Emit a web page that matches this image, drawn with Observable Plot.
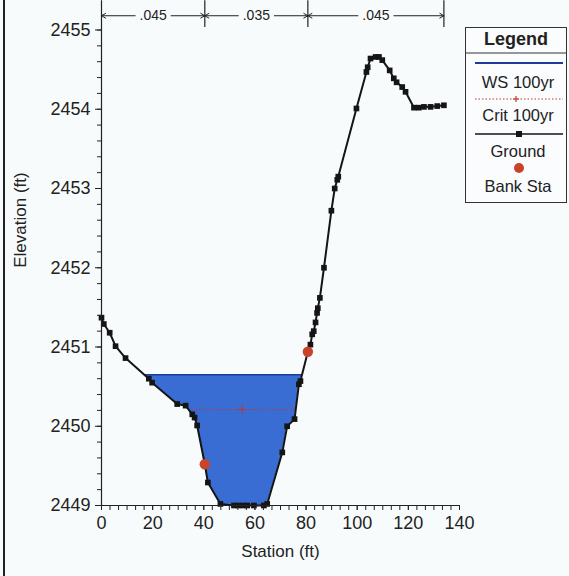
<!DOCTYPE html>
<html>
<head>
<meta charset="utf-8">
<script src="https://cdn.jsdelivr.net/npm/d3@7"></script>
<script src="https://cdn.jsdelivr.net/npm/@observablehq/plot@0.6"></script>
<style>
html, body { margin: 0; padding: 0; background: #f8fbfc; }
#wrap { position: relative; width: 569px; height: 576px; overflow: hidden; font-family: "Liberation Sans", Arial, sans-serif; color: #222; }
#edge { position: absolute; left: 3px; top: 0; width: 2px; height: 576px; background: #222; }
#legend { position: absolute; left: 465px; top: 27px; width: 100px; height: 174px; border: 1px solid #333; background: #fafcfd; }
#chart { position: absolute; left: 0; top: 0; }
</style>
</head>
<body>
<div id="wrap">
  <div id="chart"></div>
  <div id="edge"></div>
  <div id="legend"></div>
</div>
<script>
// Ground profile (station ft, elevation ft)
const station = [0, 0.9, 3.2, 5.5, 9.4, 18.5, 19.8, 29.6, 32.9, 35.5, 36.4, 37.4, 40.4, 41.6, 46.5,
  51.8, 53.5, 55.5, 57.0, 59.6, 63.5, 64.8, 70.7, 72.6, 75.5, 77.2, 77.8, 80.7, 81.7, 82.4, 83.0,
  83.7, 84.3, 84.6, 85.4, 87.0, 89.9, 91.2, 92.2, 92.6, 99.7, 103.6, 104.1, 105.2, 107.2, 108.5,
  109.8, 112.7, 114.3, 115.4, 117.6, 118.9, 122.2, 124.1, 126.1, 128.7, 131.3, 133.9];
const elevation = [2451.37, 2451.29, 2451.18, 2451.01, 2450.86, 2450.60, 2450.55, 2450.28, 2450.26,
  2450.15, 2450.11, 2450.01, 2449.52, 2449.29, 2449.02, 2449.0, 2449.0, 2449.0, 2449.0, 2449.0,
  2449.0, 2449.02, 2449.67, 2450.0, 2450.09, 2450.53, 2450.57, 2450.94, 2451.03, 2451.16, 2451.2,
  2451.31, 2451.43, 2451.49, 2451.62, 2452.0, 2452.72, 2453.0, 2453.11, 2453.15, 2454.01, 2454.47,
  2454.53, 2454.64, 2454.66, 2454.66, 2454.62, 2454.49, 2454.39, 2454.34, 2454.28, 2454.22, 2454.02,
  2454.02, 2454.03, 2454.03, 2454.04, 2454.05];
const bankStations = [40.4, 80.7];
const wsElevation = 2450.65;     // WS 100yr
const critElevation = 2450.21;   // Crit 100yr
const nValues = [".045", ".035", ".045"];
const xTicks = [0, 20, 40, 60, 80, 100, 120, 140];
const yTicks = [2449, 2450, 2451, 2452, 2453, 2454, 2455];

const ground = station.map((s, i) => ({x: s, y: elevation[i]}));
const banks = bankStations.map(s => ground.find(d => d.x === s));

function crossings(level) {
  const pts = [];
  for (let i = 0; i < ground.length - 1; i++) {
    const a = ground[i].y - level, b = ground[i + 1].y - level;
    if ((a > 0 && b <= 0) || (a <= 0 && b > 0)) {
      const t = a / (a - b);
      pts.push(ground[i].x + t * (ground[i + 1].x - ground[i].x));
    }
  }
  return [pts[0], pts[pts.length - 1]];
}
const [wsL, wsR] = crossings(wsElevation);
const [crL, crR] = crossings(critElevation);
const wet = [{x: wsL, y: wsElevation}, ...ground.filter(d => d.x > wsL && d.x < wsR), {x: wsR, y: wsElevation}];

const bounds = [station[0], bankStations[0], bankStations[1], station[station.length - 1]];
const nSegs = nValues.map((v, i) => ({label: v, a: bounds[i], b: bounds[i + 1], mid: (bounds[i] + bounds[i + 1]) / 2}));
const annY = 2455.18, barTop = 2455.37, barBot = 2455.03;

const font = '"Liberation Sans", Arial, sans-serif';
const chart = Plot.plot({
  width: 569, height: 576,
  marginLeft: 101, marginRight: 110, marginTop: 29.5, marginBottom: 71,
  x: {domain: [0, 140]},
  y: {domain: [2449, 2455]},
  style: {background: "transparent", fontFamily: font, color: "#222", overflow: "visible"},
  marks: [
    Plot.areaY(wet, {x: "x", y1: "y", y2: () => wsElevation, fill: "#3a6dd3", fillOpacity: 1}),
    Plot.ruleY([critElevation], {x1: crL, x2: crR, stroke: "#c0392b", strokeWidth: 1, strokeDasharray: "1.5,2"}),
    Plot.dot([{x: (crL + crR) / 2, y: critElevation}], {x: "x", y: "y", symbol: "plus", r: 3, stroke: "#c0392b", strokeWidth: 1}),
    Plot.ruleY([wsElevation], {x1: wsL, x2: wsR, stroke: "#1e3a9a", strokeWidth: 1.5}),
    Plot.line(ground, {x: "x", y: "y", stroke: "#151515", strokeWidth: 2}),
    Plot.dot(ground, {x: "x", y: "y", symbol: "square", r: 3.2, fill: "#151515", stroke: "none"}),
    Plot.dot(banks, {x: "x", y: "y", r: 5.2, fill: "#c9432a", stroke: "none"}),
    // axes
    Plot.axisX(d3.range(0, 140.001, 20 / 6), {tickSize: 5, tickFormat: () => "", label: null, stroke: "#222"}),
    Plot.axisX(xTicks, {tickSize: 5, tickPadding: 6, fontSize: 18, label: null, stroke: "#222", fill: "#222"}),
    Plot.axisY(d3.range(2449, 2455.001, 0.2), {tickSize: 4, tickFormat: () => "", label: null, stroke: "#222"}),
    Plot.axisY(yTicks, {tickSize: 6, tickPadding: 5, tickFormat: d3.format("d"), fontSize: 18, label: null, stroke: "#222", fill: "#222"}),
    Plot.ruleX([0], {y1: 2449, y2: barTop, stroke: "#222", strokeWidth: 1.2}),
    Plot.ruleY([2449], {x1: 0, x2: 140, stroke: "#222", strokeWidth: 1.2}),
    Plot.text(["Elevation (ft)"], {text: d => d, frameAnchor: "left", dx: -81, rotate: -90, fontSize: 17, fill: "#222"}),
    Plot.text(["Station (ft)"], {text: d => d, frameAnchor: "bottom", dy: 51, fontSize: 17, fill: "#222"}),
    // Manning's n annotation
    Plot.ruleX(bounds.slice(1), {y1: barBot, y2: barTop, stroke: "#222", strokeWidth: 1.2}),
    Plot.arrow(nSegs, {x1: "mid", x2: "a", y1: () => annY, y2: () => annY, insetStart: 18, headLength: 7, bend: 0, stroke: "#222", strokeWidth: 1}),
    Plot.arrow(nSegs, {x1: "mid", x2: "b", y1: () => annY, y2: () => annY, insetStart: 18, headLength: 7, bend: 0, stroke: "#222", strokeWidth: 1}),
    Plot.text(nSegs, {x: "mid", y: () => annY, text: "label", fontSize: 14, fill: "#222"})
  ]
});
document.getElementById("chart").appendChild(chart);

// Legend
const legendItems = ["WS 100yr", "Crit 100yr", "Ground", "Bank Sta"];
const L = d3.select("#legend").append("svg").attr("width", 100).attr("height", 174)
  .style("font-family", font).style("display", "block");
L.append("text").attr("x", 50).attr("y", 11).attr("text-anchor", "middle").attr("dominant-baseline", "central")
  .attr("font-weight", "bold").attr("font-size", 18).attr("fill", "#222").text("Legend");
L.append("line").attr("x1", 0).attr("x2", 100).attr("y1", 25).attr("y2", 25).attr("stroke", "#333").attr("stroke-width", 1);
L.append("line").attr("x1", 9).attr("x2", 97).attr("y1", 35).attr("y2", 35).attr("stroke", "#1e3a9a").attr("stroke-width", 2);
L.append("line").attr("x1", 9).attr("x2", 97).attr("y1", 71).attr("y2", 71).attr("stroke", "#c0392b").attr("stroke-width", 1).attr("stroke-dasharray", "1.5,2");
L.append("path").attr("d", "M50,68V74M47,71H53").attr("stroke", "#c0392b").attr("stroke-width", 1.2);
L.append("line").attr("x1", 9).attr("x2", 97).attr("y1", 106).attr("y2", 106).attr("stroke", "#151515").attr("stroke-width", 1.5);
L.append("rect").attr("x", 50).attr("y", 103).attr("width", 6).attr("height", 6).attr("fill", "#151515");
L.append("circle").attr("cx", 53).attr("cy", 140).attr("r", 5).attr("fill", "#c9432a");
[54, 87, 123, 158].forEach((y, i) => {
  L.append("text").attr("x", 52).attr("y", y).attr("text-anchor", "middle").attr("dominant-baseline", "central")
    .attr("font-size", 16.5).attr("fill", "#222").text(legendItems[i]);
});
</script>
</body>
</html>
